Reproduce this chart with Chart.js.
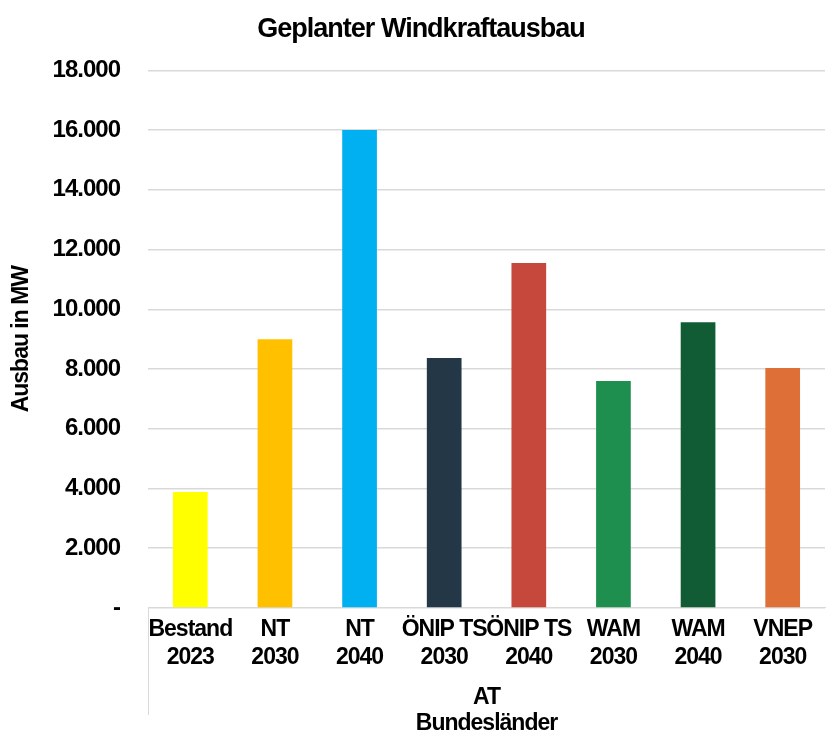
<!DOCTYPE html>
<html>
<head>
<meta charset="utf-8">
<script src="https://cdn.jsdelivr.net/npm/chart.js@4"></script>
<style>
  body { margin: 0; background: #fff; }
  #wrap { width: 830px; height: 737px; }
</style>
</head>
<body>
<div id="wrap"><canvas id="chartWind"></canvas></div>
<script>
const kategorien = [
    ['Bestand', '2023'], ['NT', '2030'], ['NT', '2040'], ['ÖNIP TS', '2030'],
    ['ÖNIP TS', '2040'], ['WAM', '2030'], ['WAM', '2040'], ['VNEP', '2030']
];
const ausbauMW = [3880, 9000, 16000, 8370, 11550, 7600, 9570, 8030];
const farben = ['#FFFF00', '#FFC000', '#00B0F0', '#243746', '#C6483C', '#1F8F4F', '#115C34', '#DD6F37'];
const yTicks = [0, 2000, 4000, 6000, 8000, 10000, 12000, 14000, 16000, 18000];

const fontFam = '"Liberation Sans", Arial, sans-serif';

function fmt(v) {
    if (v === 0) return '-';
    return v.toLocaleString('de-DE');
}

// Schrift etwas enger setzen, wie im Original
const engSchrift = {
    id: 'engSchrift',
    beforeLayout(chart) { chart.ctx.letterSpacing = '-1px'; },
    beforeDraw(chart) { chart.ctx.letterSpacing = '-1px'; }
};

// linke Linie unter der x-Achse bis zur Gruppenbeschriftung
const leftLine = {
    id: 'leftLine',
    afterDraw(chart) {
        const ctx = chart.ctx;
        const a = chart.chartArea;
        ctx.save();
        ctx.strokeStyle = '#d9d9d9';
        ctx.lineWidth = 1;
        ctx.beginPath();
        ctx.moveTo(a.left + 0.5, a.bottom);
        ctx.lineTo(a.left + 0.5, 715);
        ctx.stroke();
        ctx.restore();
    }
};

const ctx = document.getElementById('chartWind').getContext('2d');
new Chart(ctx, {
    type: 'bar',
    data: {
        labels: kategorien,
        datasets: [{
            label: 'Ausbau',
            data: ausbauMW,
            backgroundColor: farben,
            barPercentage: 0.41,
            categoryPercentage: 1
        }]
    },
    options: {
        responsive: true,
        maintainAspectRatio: false,
        animation: false,
        layout: { padding: { left: 4, right: 5, top: 0, bottom: 0 } },
        scales: {
            y: {
                min: 0,
                max: 18000,
                afterBuildTicks: axis => { axis.ticks = yTicks.map(v => ({ value: v })); },
                afterFit: axis => { axis.width = 144; },
                border: { display: false },
                grid: { color: '#d9d9d9', lineWidth: 1.5, drawTicks: false },
                ticks: {
                    padding: 28,
                    color: '#000',
                    font: { family: fontFam, size: 24, weight: 'bold' },
                    callback: v => fmt(v)
                },
                title: {
                    display: true,
                    text: 'Ausbau in MW',
                    color: '#000',
                    padding: { top: 4, bottom: 0 },
                    font: { family: fontFam, size: 23, weight: 'bold', lineHeight: 1.2 }
                }
            },
            x: {
                border: { color: '#d9d9d9', width: 1 },
                grid: { display: false, drawTicks: false },
                ticks: {
                    padding: 8,
                    color: '#000',
                    maxRotation: 0,
                    autoSkip: false,
                    font: { family: fontFam, size: 23, weight: 'bold', lineHeight: 1.22 }
                },
                title: {
                    display: true,
                    text: ['AT', 'Bundesländer'],
                    color: '#000',
                    padding: { top: 5, bottom: 0 },
                    font: { family: fontFam, size: 23, weight: 'bold', lineHeight: 1.13 }
                }
            }
        },
        plugins: {
            legend: { display: false },
            tooltip: { enabled: false },
            title: {
                display: true,
                text: '  Geplanter Windkraftausbau',
                color: '#000',
                padding: { top: 13, bottom: 25 },
                font: { family: fontFam, size: 27, weight: 'bold', lineHeight: 1.2 }
            }
        }
    },
    plugins: [engSchrift, leftLine]
});
</script>
</body>
</html>
